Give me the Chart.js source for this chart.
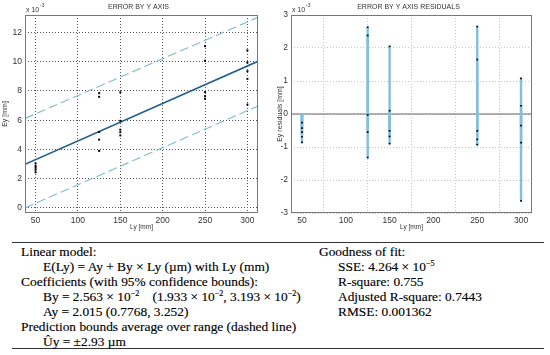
<!DOCTYPE html>
<html>
<head>
<meta charset="utf-8">
<script src="https://cdn.jsdelivr.net/npm/chart.js@4.4.1/dist/chart.umd.min.js"></script>
<style>
  body { margin: 0; background: #fff; width: 550px; height: 355px; position: relative; overflow: hidden; }
  .wrap { position: absolute; top: 0; width: 275px; height: 235px; }
  #wl { left: 0; }
  #wr { left: 275px; }
  .tbl { position: absolute; left: 12px; top: 242px; width: 532px; height: 105px;
         border-top: 1.5px solid #333; border-bottom: 1.5px solid #333; }
  .ln { position: absolute; white-space: nowrap; font-family: "Liberation Serif", serif;
        font-size: 13.4px; line-height: 15px; color: #000; -webkit-text-stroke: 0.15px #000; }
  sup { font-size: 8px; line-height: 0; vertical-align: 5px; }
</style>
</head>
<body>
<div class="wrap" id="wl"><canvas id="cl"></canvas></div>
<div class="wrap" id="wr"><canvas id="cr"></canvas></div>

<div class="tbl">
  <div class="ln" style="left:9px;top:1px">Linear model:</div>
  <div class="ln" style="left:31px;top:16px">E(Ly) = Ay + By × Ly (µm) with Ly (mm)</div>
  <div class="ln" style="left:9px;top:31px">Coefficients (with 95% confidence bounds):</div>
  <div class="ln" style="left:31px;top:46px">By = 2.563 × 10<sup>−2</sup>&nbsp;&nbsp;&nbsp; (1.933 × 10<sup>−2</sup>, 3.193 × 10<sup>−2</sup>)</div>
  <div class="ln" style="left:31px;top:61px">Ay = 2.015 (0.7768, 3.252)</div>
  <div class="ln" style="left:9px;top:76px">Prediction bounds average over range (dashed line)</div>
  <div class="ln" style="left:31px;top:91px">Ûy = ±2.93 µm</div>

  <div class="ln" style="left:307px;top:1px">Goodness of fit:</div>
  <div class="ln" style="left:326px;top:16px">SSE: 4.264 × 10<sup>−5</sup></div>
  <div class="ln" style="left:326px;top:31px">R-square: 0.755</div>
  <div class="ln" style="left:326px;top:46px">Adjusted R-square: 0.7443</div>
  <div class="ln" style="left:326px;top:61px">RMSE: 0.001362</div>
</div>

<script>
// measurements, Ey in units of 1e-3 mm
const lyPoints  = [50, 50, 50, 50, 50, 125, 125, 125, 125, 125, 150, 150, 150, 150, 150, 250, 250, 250, 250, 250, 300, 300, 300, 300, 300];
const eyValues  = [3.04, 2.87, 2.75, 2.61, 2.44, 7.85, 7.60, 5.19, 4.67, 3.90, 7.91, 5.96, 5.35, 5.18, 4.96, 11.07, 10.07, 7.92, 7.65, 7.47, 10.78, 9.95, 9.35, 8.83, 7.07];
const residuals = [-0.26, -0.43, -0.55, -0.69, -0.86, 2.63, 2.38, -0.03, -0.55, -1.32, 2.05, 0.10, -0.51, -0.68, -0.90, 2.65, 1.65, -0.51, -0.77, -0.93, 1.08, 0.25, -0.35, -0.87, -2.63];

// fitted line and prediction bounds at the x limits
const xLimits = [37.5, 312.5];
const fitEy   = [2.98, 10.03];
const upperEy = [6.12, 13.04];
const lowerEy = [0.0, 6.97];
const zeroEy  = [0, 0];

const xTicks     = [50, 100, 150, 200, 250, 300];
const yTicksFit  = [0, 2, 4, 6, 8, 10, 12];
const yTicksRes  = [-3, -2, -1, 0, 1, 2, 3];

const tickFont = { family: "Liberation Sans, Arial, sans-serif", size: 8.5 };
const pts = (xs, ys) => xs.map((x, i) => ({ x, y: ys[i] }));

function framePlugin(title, color) {
  return {
    id: "frame",
    afterDraw(c) {
      const { ctx, chartArea: a } = c;
      ctx.save();
      ctx.strokeStyle = color;
      ctx.lineWidth = 1;
      ctx.strokeRect(a.left + 0.5, a.top + 0.5, a.right - a.left - 1, a.bottom - a.top - 1);
      ctx.fillStyle = "#333";
      ctx.font = "7px Liberation Sans, Arial, sans-serif";
      ctx.textAlign = "center";
      ctx.textBaseline = "middle";
      ctx.fillText(title, (a.left + a.right) / 2 - 3, 7);
      ctx.textAlign = "left";
      ctx.fillText("x 10", a.left + 1, 10);
      ctx.font = "5px Liberation Sans, Arial, sans-serif";
      ctx.fillText("-3", a.left + 15, 6);
      ctx.restore();
    }
  };
}

function axes(yMin, yMax, yTicks, yTitle, gridColor, yWidth) {
  return {
    x: {
      type: "linear", min: xLimits[0], max: xLimits[1], offset: false,
      afterBuildTicks: s => { s.ticks = xTicks.map(v => ({ value: v })); },
      afterFit: s => { s.height = 22; },
      ticks: { color: "#333", font: tickFont, padding: 3, autoSkip: false, maxRotation: 0 },
      grid: { color: gridColor, drawTicks: false },
      border: { display: false, dash: [1, 2] },
      title: { display: true, text: "Ly [mm]", color: "#333", font: { family: "Liberation Sans, Arial, sans-serif", size: 6.5 }, padding: { top: 0, bottom: 4 } }
    },
    y: {
      min: yMin, max: yMax,
      afterBuildTicks: s => { s.ticks = yTicks.map(v => ({ value: v })); },
      afterFit: s => { s.width = yWidth; },
      ticks: { color: "#333", font: tickFont, padding: 3 },
      grid: { color: gridColor, drawTicks: false },
      border: { display: false, dash: [1, 2] },
      title: { display: true, text: yTitle, color: "#333", font: { family: "Liberation Sans, Arial, sans-serif", size: 7 }, padding: { top: 1, bottom: 0 } }
    }
  };
}

new Chart(document.getElementById("cl"), {
  type: "scatter",
  data: {
    datasets: [
      { data: pts(lyPoints, eyValues), pointStyle: "rect", pointRadius: 1.4, backgroundColor: "#000", borderColor: "#000", borderWidth: 0 },
      { data: pts(xLimits, fitEy), showLine: true, pointRadius: 0, borderColor: "#1f5f8e", borderWidth: 1.6 },
      { data: pts(xLimits, upperEy), showLine: true, pointRadius: 0, borderColor: "#7dbccb", borderWidth: 1.1, borderDash: [9, 4] },
      { data: pts(xLimits, lowerEy), showLine: true, pointRadius: 0, borderColor: "#7dbccb", borderWidth: 1.1, borderDash: [9, 4] }
    ]
  },
  options: {
    responsive: true, maintainAspectRatio: false, animation: false,
    layout: { padding: { top: 15, right: 17, left: 0, bottom: 0 } },
    plugins: { legend: { display: false }, tooltip: { enabled: false } },
    scales: axes(-0.35, 13.2, yTicksFit, "Ey [mm]", "#555", 25)
  },
  plugins: [framePlugin("ERROR BY Y AXIS", "#777")]
});

new Chart(document.getElementById("cr"), {
  type: "scatter",
  data: {
    datasets: [
      { data: pts(lyPoints, residuals), pointStyle: "rect", pointRadius: 1.2, backgroundColor: "#000", borderColor: "#000", borderWidth: 0 },
      { type: "bar", data: pts(lyPoints, residuals), backgroundColor: "#86bfdc", barThickness: 1.8, grouped: false },
      { data: pts(xLimits, zeroEy), showLine: true, pointRadius: 0, borderColor: "#666", borderWidth: 1.2 }
    ]
  },
  options: {
    responsive: true, maintainAspectRatio: false, animation: false,
    layout: { padding: { top: 15, right: 18, left: 0, bottom: 0 } },
    plugins: { legend: { display: false }, tooltip: { enabled: false } },
    scales: axes(-3, 3, yTicksRes, "Ey residuals [mm]", "#c8c8c8", 16)
  },
  plugins: [framePlugin("ERROR BY Y AXIS RESIDUALS", "#777")]
});
</script>
</body>
</html>
